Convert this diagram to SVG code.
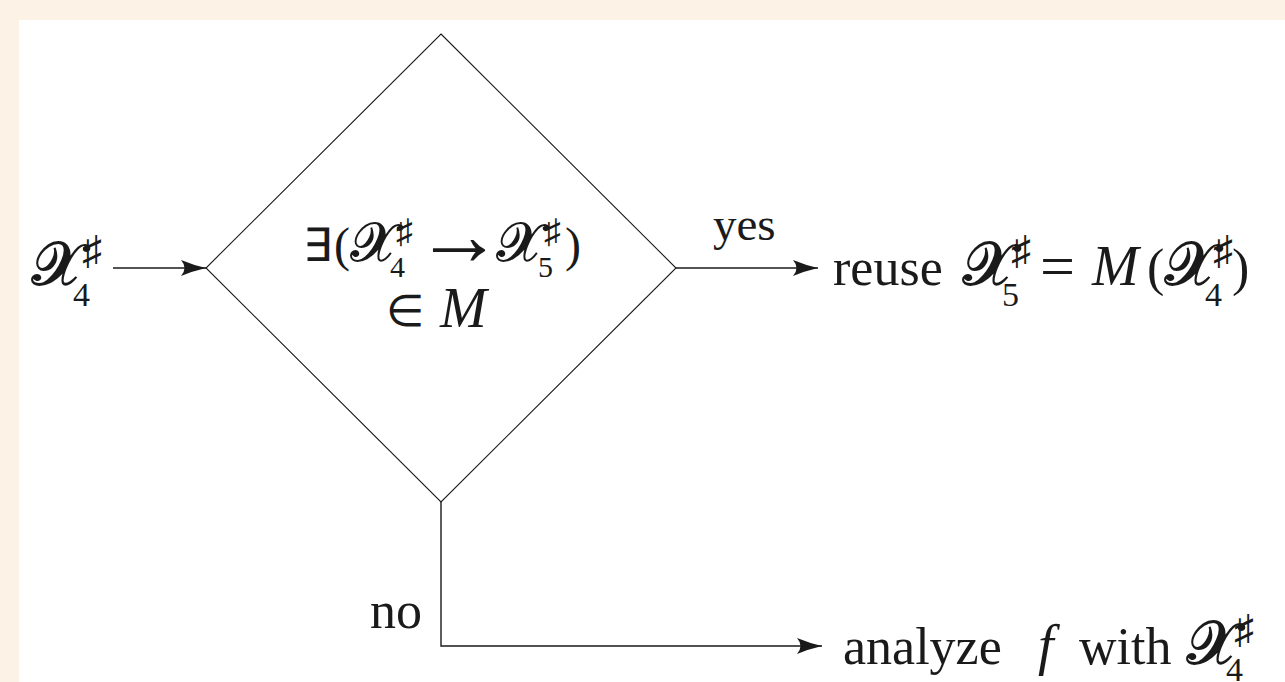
<svg xmlns="http://www.w3.org/2000/svg" width="1285" height="682" viewBox="0 0 1285 682">
<defs>
<style>
.t{font-family:'Liberation Serif','Times New Roman',serif;fill:#1a1a1a;}
.m{font-size:52px;}
.cal{font-size:60px;}
.it{font-style:italic;}
.sub{font-size:34px;}
.sh{font-size:40px;}
.edge{fill:none;stroke:#1a1a1a;stroke-width:1.4;}
.shape{fill:#ffffff;stroke:#1a1a1a;stroke-width:1.1;}
</style>
<marker id="arr" viewBox="0 0 25 16" refX="25" refY="8" markerWidth="25" markerHeight="16" markerUnits="userSpaceOnUse" orient="auto">
<path d="M25,8 Q12,5 0,0 Q7,8 0,16 Q12,11 25,8 Z" fill="#1a1a1a"/>
</marker>
</defs>
<rect x="0" y="0" width="1285" height="682" fill="#fcf3e6"/>
<rect x="19" y="20" width="1266" height="662" fill="#ffffff"/>

<g id="input">
<text class="t cal" x="31" y="285">𝓧</text>
<text class="t sub" x="73" y="306">4</text>
<text class="t sh" x="82" y="264">♯</text>
</g>

<g id="decision">
<polygon class="shape" points="441,34 676,268 441,502 206,268"/>
<text class="t" style="font-size:46px" x="303" y="261">∃</text>
<text class="t" style="font-size:48px" x="334" y="261">(</text>
<text class="t" style="font-size:54px" x="350" y="261">𝓧</text>
<text class="t" style="font-size:30px" x="390" y="277">4</text>
<text class="t" style="font-size:34px" x="396" y="243">♯</text>
<text class="t" style="font-size:88px" x="415" y="265">→</text>
<text class="t" style="font-size:54px" x="496" y="261">𝓧</text>
<text class="t" style="font-size:30px" x="538" y="277">5</text>
<text class="t" style="font-size:34px" x="544" y="243">♯</text>
<text class="t" style="font-size:48px" x="565" y="261">)</text>
<text class="t" style="font-size:44px" x="386" y="326">∈</text>
<text class="t it" style="font-size:56px" x="440" y="327">M</text>
</g>

<g id="reuse">
<text class="t m" x="833" y="285">reuse</text>
<text class="t cal" x="962" y="285">𝓧</text>
<text class="t sub" x="1002" y="306">5</text>
<text class="t sh" x="1011" y="264">♯</text>
<text class="t" style="font-size:62px" x="1040" y="287">=</text>
<text class="t it" style="font-size:56px" x="1092" y="285">M</text>
<text class="t m" x="1147" y="285">(</text>
<text class="t cal" x="1164" y="285">𝓧</text>
<text class="t sub" x="1205" y="306">4</text>
<text class="t sh" x="1213" y="264">♯</text>
<text class="t m" x="1232" y="285">)</text>
</g>

<g id="analyze">
<text class="t m" x="843" y="664">analyze</text>
<text class="t it" style="font-size:56px" x="1038" y="664">f</text>
<text class="t m" x="1079" y="664">with</text>
<text class="t cal" x="1186" y="664">𝓧</text>
<text class="t sub" x="1226" y="681">4</text>
<text class="t sh" x="1234" y="643">♯</text>
</g>

<g id="connectors">
<line class="edge" x1="113" y1="268" x2="206" y2="268" marker-end="url(#arr)"/>
<line class="edge" x1="676" y1="268" x2="818" y2="268" marker-end="url(#arr)"/>
<polyline class="edge" points="441,502 441,646 822,646" marker-end="url(#arr)"/>
<text class="t" style="font-size:47px" x="713" y="240">yes</text>
<text class="t m" x="370" y="628">no</text>
</g>
</svg>
